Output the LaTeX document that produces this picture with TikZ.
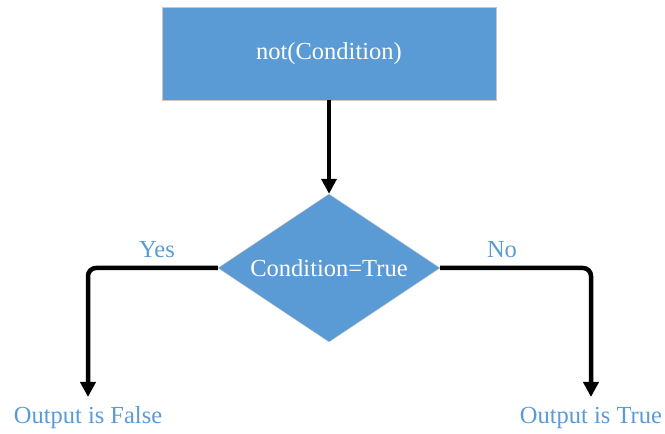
\documentclass[tikz,border=0pt]{standalone}
\usepackage{fontspec}
\setmainfont{Liberation Serif}
\usetikzlibrary{shapes.geometric,arrows.meta}
\definecolor{boxblue}{HTML}{5B9BD5}
\definecolor{edgegrey}{HTML}{C8C8C8}

\begin{document}
\begin{tikzpicture}[x=1pt, y=1pt, inner sep=0pt,
    font=\fontsize{24.5}{28}\selectfont,
    flow/.style={line width=4.5pt, rounded corners=8pt,
      -{Triangle[width=15pt,length=15pt]}},
    lbl/.style={text=boxblue}]
  \useasboundingbox (0,0) rectangle (665,434);
  \path node (N)  at (329,380.5) [rectangle, draw=edgegrey, fill=boxblue,
                    minimum width=334pt, minimum height=93pt, text=white] {not(Condition)}
        node (C)  at (329,166) [diamond, aspect=1.5, draw=edgegrey, fill=boxblue,
                    minimum width=222pt, minimum height=148pt, text=white] {Condition=True}
        node (Y)  at (157,184) [lbl] {Yes}
        node (No) at (502,184) [lbl] {No}
        node (F)  at (88,16)   [lbl] {Output is False}
        node (T)  at (591,16)  [lbl] {Output is True};
  \coordinate (Fa) at (88,37);
  \coordinate (Ta) at (591,37);
  \draw[flow] (N.south) -- (C.north);
  \draw[flow] (C.west) -| (Fa);
  \draw[flow] (C.east) -| (Ta);
\end{tikzpicture}
\end{document}
